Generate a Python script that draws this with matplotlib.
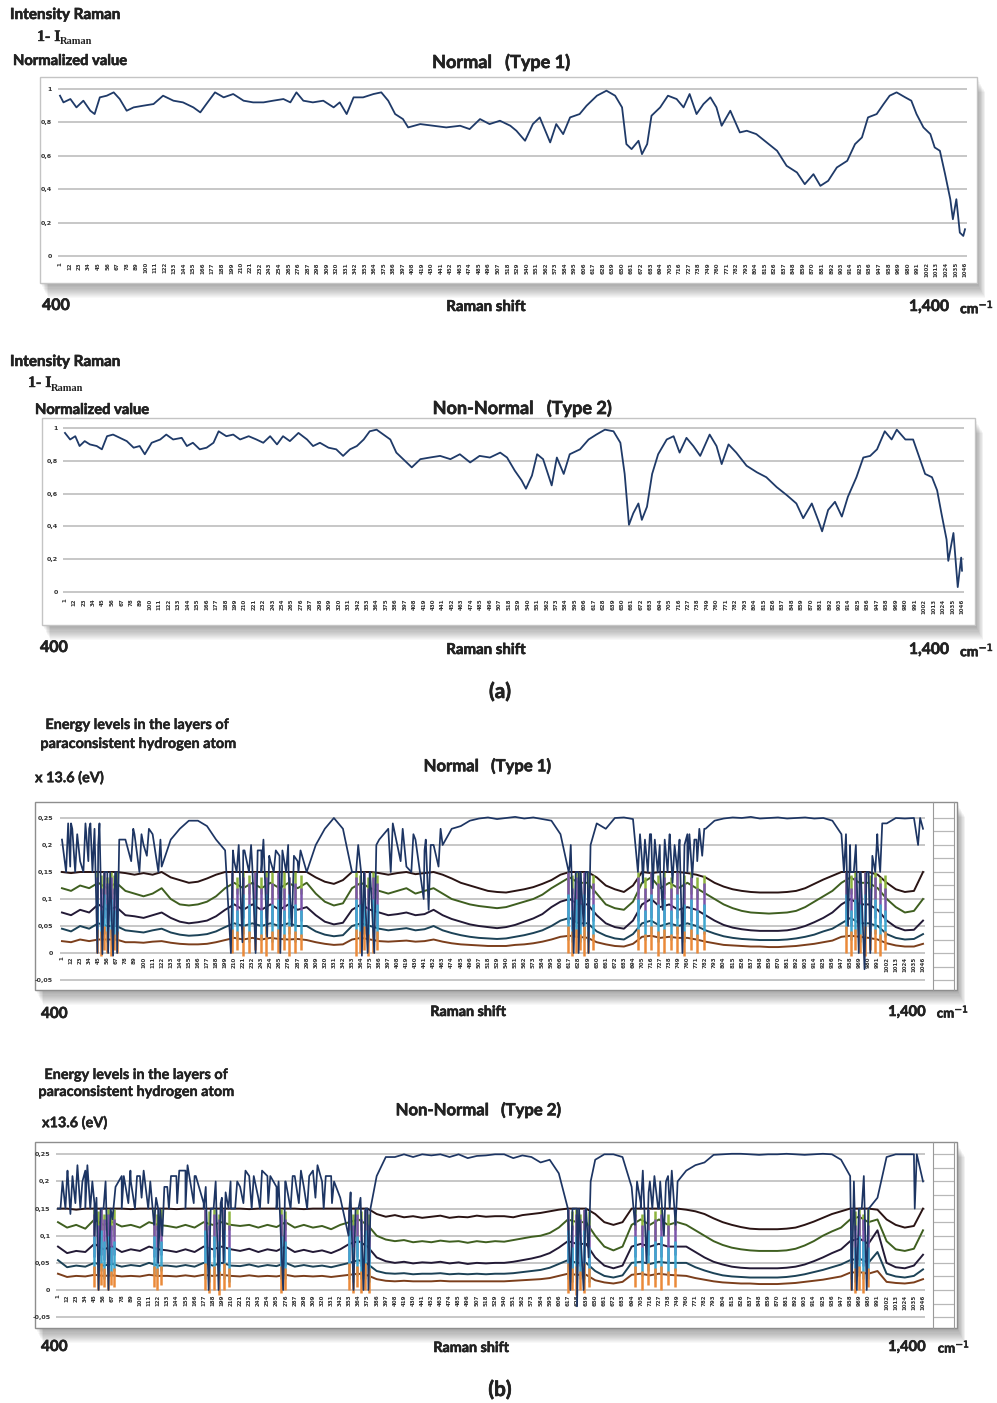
import os
import numpy as np
import matplotlib
matplotlib.use('Agg')
import matplotlib.pyplot as plt
import matplotlib.patheffects as pe
from matplotlib.patches import Rectangle
from matplotlib import font_manager
from matplotlib.font_manager import FontProperties

W, H = 997, 1403


def pick_bold(cands, default):
    # look up the actual bold font file so the weight really is bold
    for name in cands:
        for f in font_manager.fontManager.ttflist:
            b = os.path.basename(f.fname).lower()
            if f.name == name and 'bold' in b and 'italic' not in b and 'semi' not in b \
                    and 'extra' not in b and 'oblique' not in b:
                return f.fname
    return font_manager.findfont(FontProperties(family=default, weight='bold'))


SANS_FILE = pick_bold(['Lato', 'Open Sans', 'Roboto', 'Noto Sans', 'Liberation Sans'], 'DejaVu Sans')
SERIF_FILE = pick_bold(['Liberation Serif', 'DejaVu Serif'], 'DejaVu Serif')

# x tick categories (point index along the Raman shift axis)
tick_idx = list(range(1, 1047, 11))

# ---- (a) Normal (Type 1): 1 - I_Raman normalized ----
p1_x = [1, 5, 13, 20, 28, 36, 41, 47, 55, 63,
        70, 78, 86, 97, 109, 120, 132, 143, 155, 163,
        170, 180, 190, 201, 213, 224, 236, 247, 259, 267,
        274, 282, 293, 305, 317, 324, 332, 340, 351, 363,
        372, 380, 388, 397, 403, 417, 432, 447, 463, 474,
        486, 497, 509, 521, 528, 538, 547, 555, 567, 574,
        582, 590, 601, 609, 621, 632, 642, 650, 655, 661,
        669, 673, 679, 684, 694, 703, 713, 721, 728, 736,
        744, 752, 759, 765, 775, 786, 794, 805, 817, 829,
        840, 852, 861, 871, 879, 888, 898, 910, 919, 927,
        934, 944, 952, 959, 967, 977, 984, 990, 998, 1006,
        1011, 1017, 1023, 1029, 1032, 1036, 1040, 1044, 1046]
p1_y = [0.96, 0.92, 0.94, 0.89, 0.93, 0.87, 0.85, 0.95, 0.96, 0.98,
        0.94, 0.87, 0.89, 0.90, 0.91, 0.96, 0.93, 0.92, 0.89, 0.86,
        0.91, 0.98, 0.95, 0.97, 0.93, 0.92, 0.92, 0.93, 0.94, 0.92,
        0.98, 0.93, 0.92, 0.93, 0.89, 0.92, 0.85, 0.95, 0.95, 0.97,
        0.98, 0.93, 0.85, 0.82, 0.77, 0.79, 0.78, 0.77, 0.78, 0.76,
        0.82, 0.79, 0.81, 0.78, 0.75, 0.69, 0.79, 0.83, 0.68, 0.79,
        0.73, 0.83, 0.85, 0.90, 0.96, 0.99, 0.96, 0.89, 0.67, 0.64,
        0.69, 0.61, 0.67, 0.84, 0.89, 0.96, 0.94, 0.89, 0.97, 0.85,
        0.91, 0.95, 0.89, 0.78, 0.87, 0.74, 0.75, 0.73, 0.68, 0.63,
        0.54, 0.50, 0.43, 0.49, 0.42, 0.45, 0.53, 0.57, 0.67, 0.71,
        0.83, 0.85, 0.91, 0.96, 0.98, 0.95, 0.93, 0.85, 0.77, 0.73,
        0.65, 0.63, 0.49, 0.34, 0.22, 0.34, 0.14, 0.12, 0.16]

# ---- (a) Non-Normal (Type 2) ----
p2_x = [1, 7, 13, 18, 24, 30, 38, 44, 50, 57,
        65, 73, 81, 88, 94, 102, 112, 119, 127, 137,
        143, 150, 158, 166, 174, 180, 189, 197, 205, 215,
        224, 232, 240, 248, 255, 263, 273, 283, 290, 298,
        308, 317, 325, 333, 341, 349, 356, 364, 372, 380,
        387, 395, 405, 415, 426, 438, 450, 461, 473, 484,
        496, 508, 516, 525, 533, 538, 545, 551, 558, 568,
        574, 582, 589, 601, 611, 620, 630, 640, 648, 653,
        658, 663, 669, 673, 679, 685, 692, 702, 710, 717,
        725, 733, 741, 752, 760, 766, 774, 783, 795, 807,
        818, 830, 842, 853, 861, 871, 879, 883, 890, 898,
        906, 913, 923, 931, 939, 947, 956, 964, 970, 980,
        989, 995, 1003, 1011, 1017, 1022, 1028, 1030, 1036, 1041,
        1045, 1046]
p2_y = [0.97, 0.93, 0.95, 0.89, 0.92, 0.90, 0.89, 0.87, 0.95, 0.96,
        0.94, 0.92, 0.88, 0.89, 0.84, 0.91, 0.93, 0.96, 0.93, 0.94,
        0.89, 0.91, 0.87, 0.88, 0.91, 0.98, 0.95, 0.96, 0.93, 0.95,
        0.93, 0.91, 0.95, 0.90, 0.95, 0.92, 0.97, 0.93, 0.89, 0.91,
        0.88, 0.87, 0.83, 0.87, 0.89, 0.93, 0.98, 0.99, 0.96, 0.93,
        0.85, 0.81, 0.76, 0.81, 0.82, 0.83, 0.81, 0.84, 0.79, 0.83,
        0.82, 0.85, 0.82, 0.74, 0.68, 0.63, 0.71, 0.84, 0.81, 0.65,
        0.82, 0.72, 0.84, 0.87, 0.93, 0.96, 0.99, 0.98, 0.91, 0.72,
        0.41, 0.48, 0.54, 0.44, 0.52, 0.72, 0.84, 0.93, 0.95, 0.85,
        0.94, 0.89, 0.83, 0.96, 0.89, 0.78, 0.90, 0.85, 0.77, 0.73,
        0.70, 0.64, 0.59, 0.54, 0.45, 0.54, 0.43, 0.37, 0.50, 0.55,
        0.46, 0.58, 0.70, 0.82, 0.83, 0.87, 0.98, 0.93, 0.99, 0.93,
        0.93, 0.84, 0.72, 0.70, 0.62, 0.48, 0.32, 0.19, 0.36, 0.03,
        0.21, 0.13]

# ---- (b) Normal (Type 1): energy levels (x13.6 eV), one value per tick index ----
n_lvl1 = [0.21, 0.24, 0.17, 0.23, 0.20, 0.15, 0.15, 0.21, 0.22, 0.20,
          0.22, 0.16, 0.21, 0.23, 0.245, 0.245, 0.235, 0.21, 0.19, 0.17,
          0.19, 0.16, 0.19, 0.17, 0.18, 0.15, 0.17, 0.15, 0.20, 0.23,
          0.25, 0.23, 0.15, 0.15, 0.15, 0.21, 0.23, 0.20, 0.16, 0.21,
          0.19, 0.20, 0.20, 0.23, 0.235, 0.245, 0.249, 0.251, 0.248, 0.25,
          0.252, 0.249, 0.251, 0.248, 0.245, 0.22, 0.16, 0.15, 0.15, 0.24,
          0.23, 0.25, 0.251, 0.248, 0.17, 0.22, 0.15, 0.21, 0.18, 0.22,
          0.21, 0.23, 0.245, 0.249, 0.251, 0.25, 0.252, 0.249, 0.25, 0.251,
          0.249, 0.25, 0.251, 0.249, 0.25, 0.245, 0.22, 0.15, 0.15, 0.15,
          0.20, 0.24, 0.25, 0.249, 0.25, 0.23]
n_lvl2 = [0.15, 0.148, 0.15, 0.15, 0.15, 0.15, 0.15, 0.148, 0.145, 0.148,
          0.145, 0.15, 0.14, 0.135, 0.13, 0.132, 0.138, 0.145, 0.15, 0.15,
          0.15, 0.15, 0.15, 0.15, 0.15, 0.15, 0.15, 0.15, 0.14, 0.132,
          0.128, 0.135, 0.15, 0.15, 0.15, 0.148, 0.145, 0.148, 0.15, 0.146,
          0.148, 0.15, 0.145, 0.138, 0.13, 0.125, 0.12, 0.115, 0.113, 0.112,
          0.115, 0.118, 0.122, 0.128, 0.135, 0.145, 0.15, 0.15, 0.15, 0.14,
          0.125, 0.118, 0.113, 0.125, 0.15, 0.148, 0.15, 0.15, 0.15, 0.148,
          0.145, 0.14, 0.13, 0.123, 0.118, 0.115, 0.113, 0.112, 0.112, 0.112,
          0.113, 0.115, 0.12, 0.128, 0.136, 0.143, 0.15, 0.15, 0.15, 0.15,
          0.145, 0.13, 0.118, 0.113, 0.115, 0.15]
n_lvl3 = [0.12, 0.115, 0.125, 0.12, 0.13, 0.12, 0.13, 0.115, 0.11, 0.105,
          0.11, 0.12, 0.10, 0.09, 0.088, 0.09, 0.095, 0.105, 0.12, 0.13,
          0.12, 0.13, 0.12, 0.13, 0.12, 0.13, 0.12, 0.13, 0.11, 0.095,
          0.088, 0.092, 0.12, 0.13, 0.12, 0.115, 0.11, 0.115, 0.12, 0.11,
          0.115, 0.12, 0.11, 0.10, 0.095, 0.09, 0.087, 0.085, 0.083, 0.085,
          0.09, 0.095, 0.10, 0.108, 0.12, 0.13, 0.14, 0.13, 0.13, 0.11,
          0.09, 0.083, 0.08, 0.095, 0.13, 0.14, 0.12, 0.13, 0.12, 0.13,
          0.12, 0.11, 0.10, 0.09, 0.083, 0.078, 0.075, 0.074, 0.073, 0.074,
          0.075, 0.078, 0.085, 0.095, 0.105, 0.115, 0.13, 0.14, 0.13, 0.13,
          0.12, 0.10, 0.085, 0.075, 0.078, 0.10]
n_lvl4 = [0.075, 0.07, 0.08, 0.075, 0.09, 0.08, 0.085, 0.07, 0.068, 0.065,
          0.07, 0.075, 0.065, 0.058, 0.055, 0.057, 0.06, 0.068, 0.08, 0.09,
          0.08, 0.09, 0.08, 0.09, 0.08, 0.09, 0.08, 0.085, 0.07, 0.058,
          0.053, 0.056, 0.08, 0.09, 0.08, 0.075, 0.07, 0.072, 0.075, 0.07,
          0.072, 0.08, 0.07, 0.063, 0.058, 0.053, 0.05, 0.048, 0.046, 0.048,
          0.052, 0.058, 0.064, 0.072, 0.085, 0.095, 0.10, 0.09, 0.09, 0.07,
          0.055, 0.048, 0.045, 0.06, 0.09, 0.10, 0.085, 0.09, 0.08, 0.085,
          0.08, 0.07, 0.06, 0.052, 0.047, 0.044, 0.042, 0.041, 0.041, 0.041,
          0.042, 0.045, 0.05, 0.057, 0.065, 0.075, 0.09, 0.10, 0.09, 0.09,
          0.08, 0.06, 0.048, 0.042, 0.043, 0.06]
n_lvl5 = [0.045, 0.04, 0.05, 0.045, 0.055, 0.05, 0.05, 0.042, 0.04, 0.038,
          0.042, 0.045, 0.038, 0.034, 0.032, 0.033, 0.035, 0.04, 0.048, 0.055,
          0.05, 0.055, 0.05, 0.055, 0.05, 0.055, 0.05, 0.05, 0.04, 0.034,
          0.031, 0.033, 0.05, 0.055, 0.05, 0.045, 0.042, 0.044, 0.046, 0.042,
          0.044, 0.05, 0.042, 0.037, 0.033, 0.03, 0.028, 0.027, 0.026, 0.027,
          0.03, 0.033, 0.037, 0.042, 0.05, 0.06, 0.065, 0.055, 0.055, 0.04,
          0.032, 0.027, 0.025, 0.035, 0.055, 0.06, 0.05, 0.055, 0.05, 0.055,
          0.05, 0.042, 0.036, 0.031, 0.028, 0.026, 0.025, 0.024, 0.024, 0.024,
          0.025, 0.027, 0.03, 0.034, 0.04, 0.045, 0.055, 0.065, 0.055, 0.055,
          0.05, 0.035, 0.028, 0.025, 0.026, 0.035]
n_lvl6 = [0.022, 0.02, 0.025, 0.022, 0.025, 0.025, 0.025, 0.02, 0.02, 0.019,
          0.021, 0.022, 0.019, 0.017, 0.016, 0.016, 0.017, 0.02, 0.024, 0.028,
          0.025, 0.028, 0.025, 0.028, 0.026, 0.025, 0.026, 0.024, 0.02, 0.017,
          0.015, 0.016, 0.025, 0.028, 0.025, 0.022, 0.021, 0.022, 0.023, 0.021,
          0.022, 0.025, 0.021, 0.018, 0.016, 0.015, 0.014, 0.013, 0.013, 0.013,
          0.015, 0.016, 0.018, 0.021, 0.025, 0.03, 0.032, 0.03, 0.028, 0.02,
          0.016, 0.013, 0.012, 0.017, 0.03, 0.032, 0.028, 0.03, 0.028, 0.028,
          0.025, 0.021, 0.018, 0.015, 0.014, 0.013, 0.012, 0.012, 0.011, 0.011,
          0.012, 0.013, 0.015, 0.017, 0.02, 0.023, 0.03, 0.032, 0.03, 0.028,
          0.025, 0.018, 0.014, 0.012, 0.012, 0.017]
# fast up/down flips of the top level (index, low end, high end)
n_top_spk_x = [6, 11, 17, 27, 33, 38,
               44, 50, 57, 63, 68,
               85, 95, 104, 118,
               206, 213, 220, 228, 236, 243, 250, 258, 266, 273, 280, 288,
               358, 365, 372, 380,
               400, 412, 425, 440, 446, 458,
               616, 622, 628, 634, 640,
               700, 706, 712, 718, 724, 730, 736, 742, 748, 754, 760, 766, 772, 778,
               950, 955, 962, 968, 975, 982, 988, 994,
               1040]
n_top_spk_lo = [0.15, 0.16, 0.15, 0.15, 0.17, 0.15,
                0.0, -0.002, 0.0, -0.005, 0.0,
                0.17, 0.15, 0.18, 0.15,
                0.0, 0.15, 0.02, 0.15, 0.0, 0.15, 0.03, 0.15, 0.0, 0.15, 0.05, 0.15,
                0.15, -0.005, 0.0, 0.0,
                0.15, 0.17, 0.15, 0.10, 0.08, 0.16,
                0.15, 0.0, 0.0, 0.05, 0.0,
                0.15, 0.13, 0.15, 0.12, 0.15, 0.08, 0.15, 0.13, 0.15, 0.0, 0.15, 0.14, 0.17, 0.18,
                0.15, 0.05, 0.15, 0.0, -0.03, 0.0, 0.15, 0.15,
                0.20]
n_top_spk_hi = [0.24, 0.23, 0.22, 0.24, 0.24, 0.23,
                0.24, 0.15, 0.15, 0.15, 0.21,
                0.23, 0.22, 0.23, 0.21,
                0.19, 0.20, 0.19, 0.20, 0.19, 0.21, 0.18, 0.19, 0.19, 0.20, 0.18, 0.19,
                0.20, 0.15, 0.15, 0.20,
                0.24, 0.23, 0.22, 0.21, 0.20, 0.23,
                0.20, 0.15, 0.15, 0.15, 0.20,
                0.22, 0.21, 0.22, 0.21, 0.20, 0.21, 0.22, 0.20, 0.21, 0.20, 0.22, 0.21, 0.23, 0.23,
                0.22, 0.20, 0.20, 0.15, 0.15, 0.18, 0.22, 0.24,
                0.25]
# crossing zones of the lower levels
n_chaos_x = [44, 48, 52, 56, 60, 64, 68,
             207, 214, 221, 228, 235, 242, 249, 256, 263, 270, 277, 284, 291,
             358, 363, 368, 373, 378, 383,
             615, 620, 625, 630, 635, 640, 645,
             700, 708, 716, 724, 732, 740, 748, 756, 764, 772, 780,
             952, 958, 964, 970, 976, 982, 988, 994, 1000]
n_c3_lo = [0.10, 0.11, 0.09, 0.11, 0.10, 0.11, 0.10,
           0.10, 0.11, 0.09, 0.11, 0.10, 0.11, 0.09, 0.10, 0.11, 0.10, 0.11, 0.10, 0.11,
           0.10, 0.11, 0.10, 0.09, 0.11, 0.10,
           0.10, 0.11, 0.09, 0.10, 0.11, 0.10, 0.11,
           0.11, 0.10, 0.11, 0.09, 0.11, 0.10, 0.11, 0.10, 0.11, 0.10, 0.11,
           0.10, 0.11, 0.09, 0.11, 0.10, 0.11, 0.10, 0.11, 0.10]
n_c3_hi = [0.15, 0.145, 0.15, 0.14, 0.15, 0.145, 0.15,
           0.15, 0.14, 0.15, 0.145, 0.15, 0.14, 0.15, 0.15, 0.145, 0.15, 0.14, 0.15, 0.145,
           0.15, 0.145, 0.15, 0.14, 0.15, 0.145,
           0.15, 0.145, 0.15, 0.15, 0.14, 0.15, 0.145,
           0.15, 0.14, 0.15, 0.145, 0.15, 0.14, 0.15, 0.145, 0.15, 0.14, 0.145,
           0.15, 0.145, 0.15, 0.14, 0.15, 0.145, 0.15, 0.14, 0.145]
n_c4_lo = [0.06, 0.05, 0.065, 0.055, 0.06, 0.05, 0.065,
           0.06, 0.05, 0.065, 0.055, 0.06, 0.05, 0.065, 0.055, 0.06, 0.05, 0.065, 0.055, 0.06,
           0.06, 0.05, 0.065, 0.055, 0.06, 0.05,
           0.055, 0.045, 0.06, 0.05, 0.055, 0.045, 0.06,
           0.06, 0.05, 0.065, 0.055, 0.06, 0.05, 0.065, 0.055, 0.06, 0.05, 0.065,
           0.06, 0.05, 0.065, 0.055, 0.06, 0.05, 0.065, 0.055, 0.06]
n_c4_hi = [0.14, 0.12, 0.15, 0.13, 0.14, 0.12, 0.13,
           0.15, 0.12, 0.14, 0.13, 0.15, 0.12, 0.14, 0.13, 0.15, 0.12, 0.14, 0.13, 0.12,
           0.14, 0.13, 0.15, 0.12, 0.14, 0.13,
           0.15, 0.12, 0.14, 0.13, 0.15, 0.12, 0.13,
           0.14, 0.12, 0.15, 0.13, 0.14, 0.12, 0.15, 0.13, 0.14, 0.12, 0.13,
           0.15, 0.12, 0.14, 0.13, 0.15, 0.12, 0.14, 0.13, 0.12]
n_c5_lo = [0.03, 0.025, 0.035, 0.02, 0.03, 0.025, 0.035,
           0.03, 0.025, 0.035, 0.02, 0.03, 0.025, 0.035, 0.02, 0.03, 0.025, 0.035, 0.02, 0.03,
           0.03, 0.025, 0.035, 0.02, 0.03, 0.025,
           0.025, 0.02, 0.03, 0.02, 0.025, 0.02, 0.03,
           0.03, 0.025, 0.035, 0.02, 0.03, 0.025, 0.035, 0.02, 0.03, 0.025, 0.035,
           0.03, 0.025, 0.035, 0.02, 0.03, 0.025, 0.035, 0.02, 0.03]
n_c5_hi = [0.10, 0.08, 0.11, 0.09, 0.10, 0.08, 0.09,
           0.10, 0.08, 0.11, 0.09, 0.10, 0.08, 0.11, 0.09, 0.10, 0.08, 0.11, 0.09, 0.08,
           0.10, 0.09, 0.11, 0.08, 0.10, 0.09,
           0.11, 0.08, 0.10, 0.09, 0.11, 0.08, 0.09,
           0.10, 0.08, 0.11, 0.09, 0.10, 0.08, 0.11, 0.09, 0.10, 0.08, 0.09,
           0.11, 0.08, 0.10, 0.09, 0.11, 0.08, 0.10, 0.09, 0.08]
n_c6_lo = [0.0, -0.005, 0.005, 0.0, -0.005, 0.005, 0.0,
           0.0, 0.005, -0.005, 0.0, 0.005, 0.0, -0.005, 0.005, 0.0, 0.005, -0.005, 0.0, 0.005,
           -0.005, 0.0, 0.005, -0.005, 0.0, 0.005,
           0.0, -0.005, 0.0, 0.005, -0.005, 0.0, 0.005,
           0.005, 0.0, 0.005, -0.005, 0.0, 0.005, 0.0, -0.005, 0.005, 0.0, 0.005,
           0.0, -0.005, 0.005, 0.0, -0.005, 0.005, 0.0, -0.005, 0.005]
n_c6_hi = [0.045, 0.04, 0.05, 0.04, 0.045, 0.035, 0.04,
           0.045, 0.04, 0.05, 0.04, 0.045, 0.035, 0.05, 0.04, 0.045, 0.035, 0.05, 0.04, 0.035,
           0.045, 0.04, 0.05, 0.035, 0.045, 0.04,
           0.05, 0.04, 0.045, 0.035, 0.05, 0.04, 0.035,
           0.045, 0.035, 0.05, 0.04, 0.045, 0.035, 0.05, 0.04, 0.045, 0.035, 0.04,
           0.05, 0.04, 0.045, 0.035, 0.05, 0.04, 0.045, 0.035, 0.04]

# ---- (b) Non-Normal (Type 2) ----
nn_lvl1 = [0.15, 0.21, 0.19, 0.22, 0.16, 0.15, 0.13, 0.21, 0.20, 0.21,
           0.17, 0.15, 0.19, 0.21, 0.22, 0.21, 0.16, 0.15, 0.17, 0.15,
           0.19, 0.21, 0.17, 0.21, 0.19, 0.20, 0.21, 0.19, 0.22, 0.20,
           0.21, 0.17, 0.15, 0.15, 0.15, 0.21, 0.245, 0.245, 0.25, 0.245,
           0.25, 0.248, 0.25, 0.245, 0.25, 0.243, 0.247, 0.248, 0.25, 0.25,
           0.243, 0.248, 0.245, 0.235, 0.24, 0.215, 0.15, 0.15, 0.15, 0.24,
           0.25, 0.25, 0.245, 0.19, 0.16, 0.20, 0.15, 0.21, 0.18, 0.22,
           0.23, 0.235, 0.249, 0.25, 0.251, 0.251, 0.25, 0.249, 0.25, 0.25,
           0.251, 0.25, 0.249, 0.25, 0.251, 0.25, 0.24, 0.21, 0.15, 0.15,
           0.17, 0.245, 0.25, 0.25, 0.25, 0.20]
nn_lvl2 = [0.15, 0.15, 0.148, 0.15, 0.15, 0.15, 0.15, 0.15, 0.149, 0.15,
           0.15, 0.15, 0.15, 0.149, 0.15, 0.15, 0.15, 0.15, 0.15, 0.15,
           0.15, 0.149, 0.15, 0.15, 0.15, 0.15, 0.15, 0.149, 0.15, 0.15,
           0.15, 0.15, 0.15, 0.15, 0.15, 0.14, 0.135, 0.138, 0.134, 0.136,
           0.133, 0.135, 0.137, 0.133, 0.135, 0.134, 0.137, 0.135, 0.136, 0.136,
           0.134, 0.138, 0.14, 0.142, 0.145, 0.148, 0.15, 0.15, 0.15, 0.14,
           0.125, 0.12, 0.125, 0.15, 0.15, 0.15, 0.15, 0.15, 0.15, 0.148,
           0.145, 0.14, 0.132, 0.125, 0.12, 0.116, 0.113, 0.112, 0.112, 0.112,
           0.113, 0.115, 0.12, 0.126, 0.133, 0.14, 0.145, 0.15, 0.15, 0.15,
           0.148, 0.13, 0.12, 0.115, 0.118, 0.15]
nn_lvl3 = [0.125, 0.115, 0.12, 0.113, 0.13, 0.12, 0.125, 0.117, 0.12, 0.115,
           0.125, 0.12, 0.118, 0.115, 0.12, 0.115, 0.125, 0.12, 0.125, 0.12,
           0.118, 0.12, 0.115, 0.12, 0.116, 0.125, 0.115, 0.12, 0.115, 0.118,
           0.112, 0.12, 0.125, 0.13, 0.12, 0.10, 0.093, 0.09, 0.092, 0.088,
           0.09, 0.088, 0.091, 0.089, 0.09, 0.087, 0.09, 0.088, 0.09, 0.089,
           0.092, 0.095, 0.098, 0.10, 0.105, 0.115, 0.13, 0.125, 0.125, 0.10,
           0.08, 0.073, 0.08, 0.12, 0.13, 0.12, 0.13, 0.12, 0.125, 0.12,
           0.11, 0.10, 0.09, 0.083, 0.078, 0.075, 0.073, 0.072, 0.072, 0.072,
           0.073, 0.076, 0.082, 0.09, 0.10, 0.108, 0.115, 0.13, 0.135, 0.125,
           0.13, 0.09, 0.075, 0.072, 0.076, 0.11]
nn_lvl4 = [0.08, 0.068, 0.072, 0.07, 0.085, 0.075, 0.08, 0.07, 0.075, 0.072,
           0.08, 0.075, 0.073, 0.07, 0.075, 0.07, 0.08, 0.075, 0.08, 0.075,
           0.072, 0.076, 0.07, 0.075, 0.072, 0.08, 0.07, 0.074, 0.07, 0.073,
           0.068, 0.075, 0.085, 0.09, 0.08, 0.06, 0.053, 0.05, 0.052, 0.049,
           0.051, 0.05, 0.052, 0.049, 0.051, 0.048, 0.05, 0.049, 0.05, 0.05,
           0.052, 0.055, 0.058, 0.062, 0.068, 0.078, 0.09, 0.085, 0.085, 0.06,
           0.045, 0.04, 0.045, 0.08, 0.085, 0.08, 0.085, 0.08, 0.08, 0.08,
           0.07, 0.06, 0.052, 0.047, 0.043, 0.041, 0.04, 0.04, 0.04, 0.04,
           0.041, 0.043, 0.047, 0.053, 0.06, 0.068, 0.075, 0.09, 0.095, 0.085,
           0.11, 0.05, 0.042, 0.04, 0.045, 0.065]
nn_lvl5 = [0.055, 0.042, 0.045, 0.043, 0.05, 0.045, 0.048, 0.043, 0.046, 0.044,
           0.05, 0.045, 0.045, 0.043, 0.046, 0.043, 0.05, 0.045, 0.05, 0.045,
           0.044, 0.047, 0.043, 0.046, 0.044, 0.05, 0.043, 0.046, 0.043, 0.045,
           0.042, 0.046, 0.05, 0.055, 0.048, 0.035, 0.031, 0.03, 0.031, 0.029,
           0.03, 0.03, 0.031, 0.029, 0.03, 0.029, 0.03, 0.029, 0.03, 0.03,
           0.031, 0.033, 0.035, 0.037, 0.041, 0.048, 0.055, 0.05, 0.05, 0.035,
           0.026, 0.023, 0.027, 0.05, 0.052, 0.048, 0.052, 0.05, 0.05, 0.05,
           0.042, 0.036, 0.031, 0.027, 0.025, 0.024, 0.023, 0.023, 0.023, 0.023,
           0.024, 0.026, 0.029, 0.033, 0.037, 0.042, 0.047, 0.055, 0.058, 0.05,
           0.07, 0.03, 0.025, 0.023, 0.026, 0.038]
nn_lvl6 = [0.03, 0.024, 0.026, 0.025, 0.028, 0.026, 0.027, 0.025, 0.026, 0.025,
           0.028, 0.026, 0.026, 0.025, 0.027, 0.025, 0.028, 0.026, 0.028, 0.026,
           0.025, 0.027, 0.025, 0.026, 0.025, 0.028, 0.025, 0.026, 0.025, 0.026,
           0.024, 0.026, 0.028, 0.03, 0.027, 0.02, 0.017, 0.016, 0.017, 0.016,
           0.016, 0.016, 0.017, 0.016, 0.016, 0.016, 0.016, 0.016, 0.016, 0.016,
           0.017, 0.018, 0.019, 0.02, 0.022, 0.026, 0.03, 0.028, 0.028, 0.018,
           0.014, 0.012, 0.015, 0.028, 0.03, 0.027, 0.03, 0.028, 0.027, 0.026,
           0.022, 0.019, 0.016, 0.014, 0.013, 0.012, 0.012, 0.011, 0.011, 0.011,
           0.012, 0.013, 0.015, 0.017, 0.019, 0.022, 0.025, 0.032, 0.033, 0.03,
           0.035, 0.015, 0.013, 0.012, 0.014, 0.02]
nn_top_spk_x = [4, 10, 16, 22, 28, 34, 40,
                45, 50, 56, 62, 68,
                78, 86, 94, 102, 110,
                117, 122, 127,
                135, 145, 155, 165,
                177, 183, 189, 195, 201, 207,
                215, 225, 235, 245, 255, 265, 273, 282, 292, 302, 312, 322, 332,
                352, 358, 364, 370, 376,
                620, 628, 636, 642,
                698, 705, 712, 719, 726, 733, 740, 747,
                960, 966, 972, 978,
                1036]
nn_top_spk_lo = [0.15, 0.15, 0.14, 0.16, 0.15, 0.15, 0.15,
                 0.10, 0.0, 0.15, 0.0, 0.15,
                 0.15, 0.16, 0.15, 0.17, 0.15,
                 0.12, 0.05, 0.10,
                 0.15, 0.16, 0.15, 0.16,
                 0.15, 0.0, 0.15, 0.0, 0.05, 0.15,
                 0.15, 0.16, 0.15, 0.15, 0.16, 0.15, 0.0, 0.15, 0.16, 0.15, 0.17, 0.15, 0.16,
                 0.10, 0.0, 0.15, 0.0, 0.0,
                 0.0, -0.03, 0.0, 0.06,
                 0.12, 0.15, 0.05, 0.15, 0.15, 0.10, 0.15, 0.12,
                 0.0, 0.0, 0.15, 0.0,
                 0.15]
nn_top_spk_hi = [0.20, 0.22, 0.21, 0.23, 0.20, 0.23, 0.20,
                 0.17, 0.15, 0.20, 0.15, 0.19,
                 0.21, 0.22, 0.21, 0.22, 0.20,
                 0.17, 0.15, 0.19,
                 0.21, 0.22, 0.23, 0.21,
                 0.19, 0.15, 0.20, 0.16, 0.18, 0.20,
                 0.20, 0.22, 0.21, 0.22, 0.21, 0.20, 0.20, 0.21, 0.22, 0.21, 0.23, 0.21, 0.20,
                 0.18, 0.15, 0.17, 0.15, 0.15,
                 0.15, 0.15, 0.15, 0.20,
                 0.20, 0.22, 0.18, 0.21, 0.20, 0.20, 0.22, 0.20,
                 0.20, 0.15, 0.21, 0.15,
                 0.25]
nn_chaos_x = [45, 49, 53, 57, 61, 65, 69,
              117, 121, 125,
              178, 184, 190, 196, 202, 208,
              270, 275,
              352, 357, 362, 367, 372, 377,
              617, 622, 627, 632, 637, 642,
              698, 706, 714, 722, 730, 738, 746,
              959, 964, 969, 974, 979]
nn_c3_lo = [0.10, 0.11, 0.09, 0.11, 0.10, 0.11, 0.10,
            0.10, 0.11, 0.10,
            0.10, 0.11, 0.09, 0.11, 0.10, 0.11,
            0.10, 0.11,
            0.10, 0.11, 0.09, 0.11, 0.10, 0.11,
            0.10, 0.11, 0.09, 0.11, 0.10, 0.11,
            0.11, 0.10, 0.11, 0.09, 0.11, 0.10, 0.11,
            0.10, 0.11, 0.09, 0.11, 0.10]
nn_c3_hi = [0.15, 0.145, 0.15, 0.14, 0.15, 0.145, 0.15,
            0.15, 0.14, 0.15,
            0.15, 0.145, 0.15, 0.14, 0.15, 0.145,
            0.15, 0.145,
            0.15, 0.14, 0.15, 0.145, 0.15, 0.14,
            0.15, 0.145, 0.15, 0.14, 0.15, 0.145,
            0.15, 0.14, 0.15, 0.145, 0.15, 0.14, 0.145,
            0.15, 0.145, 0.15, 0.14, 0.15]
nn_c4_lo = [0.06, 0.05, 0.065, 0.055, 0.06, 0.05, 0.065,
            0.06, 0.05, 0.065,
            0.05, 0.04, 0.06, 0.045, 0.055, 0.05,
            0.05, 0.045,
            0.05, 0.04, 0.06, 0.045, 0.055, 0.05,
            0.05, 0.04, 0.055, 0.045, 0.05, 0.04,
            0.06, 0.05, 0.065, 0.055, 0.06, 0.05, 0.065,
            0.05, 0.04, 0.055, 0.045, 0.05]
nn_c4_hi = [0.14, 0.12, 0.15, 0.13, 0.14, 0.12, 0.13,
            0.14, 0.12, 0.13,
            0.15, 0.12, 0.14, 0.13, 0.15, 0.12,
            0.14, 0.13,
            0.15, 0.12, 0.14, 0.13, 0.15, 0.12,
            0.15, 0.12, 0.14, 0.13, 0.15, 0.12,
            0.14, 0.12, 0.15, 0.13, 0.14, 0.12, 0.13,
            0.15, 0.12, 0.14, 0.13, 0.12]
nn_c5_lo = [0.03, 0.025, 0.035, 0.02, 0.03, 0.025, 0.035,
            0.03, 0.025, 0.035,
            0.02, 0.015, 0.025, 0.02, 0.02, 0.015,
            0.02, 0.02,
            0.02, 0.015, 0.025, 0.02, 0.02, 0.015,
            0.02, 0.015, 0.025, 0.02, 0.02, 0.015,
            0.03, 0.025, 0.035, 0.02, 0.03, 0.025, 0.035,
            0.02, 0.015, 0.025, 0.02, 0.02]
nn_c5_hi = [0.10, 0.08, 0.11, 0.09, 0.10, 0.08, 0.09,
            0.10, 0.08, 0.09,
            0.11, 0.08, 0.10, 0.09, 0.11, 0.08,
            0.10, 0.09,
            0.11, 0.08, 0.10, 0.09, 0.11, 0.08,
            0.11, 0.08, 0.10, 0.09, 0.11, 0.08,
            0.10, 0.08, 0.11, 0.09, 0.10, 0.08, 0.09,
            0.11, 0.08, 0.10, 0.09, 0.08]
nn_c6_lo = [0.005, 0.0, 0.01, 0.005, 0.0, 0.01, 0.005,
            0.005, 0.0, 0.01,
            0.0, -0.005, 0.0, -0.01, 0.0, 0.005,
            -0.005, 0.0,
            0.0, -0.005, 0.005, -0.005, 0.0, -0.005,
            -0.005, 0.0, -0.01, 0.0, -0.005, 0.005,
            0.005, 0.0, 0.01, 0.005, 0.0, 0.01, 0.005,
            0.0, -0.005, 0.0, -0.005, 0.005]
nn_c6_hi = [0.045, 0.04, 0.05, 0.04, 0.045, 0.035, 0.04,
            0.045, 0.04, 0.045,
            0.05, 0.04, 0.045, 0.035, 0.05, 0.04,
            0.045, 0.04,
            0.05, 0.04, 0.045, 0.035, 0.05, 0.04,
            0.05, 0.04, 0.045, 0.035, 0.05, 0.04,
            0.045, 0.035, 0.05, 0.04, 0.045, 0.035, 0.04,
            0.05, 0.04, 0.045, 0.035, 0.04]

raman_ticks = [0, 0.2, 0.4, 0.6, 0.8, 1]
raman_labels = ['0', '0,2', '0,4', '0,6', '0,8', '1']
energy_ticks = [-0.05, 0, 0.05, 0.1, 0.15, 0.2, 0.25]
energy_labels = ['-0,05', '0', '0,05', '0,1', '0,15', '0,2', '0,25']
# line colours for levels 1..6 and the brighter colours seen in crossing zones
level_colors = ['#1d3563', '#2a1414', '#3f5f20', '#231a36', '#1c4257', '#7c3f1c']
spike_colors = ['#2c4f92', '#2e1616', '#8db43e', '#7b55ab', '#3fa7cf', '#ea8a3a']
TEXT_COLOR = '#222222'

fig = plt.figure(figsize=(W / 100, H / 100), dpi=100)


def fx(px):
    return px / W


def fy(py):
    return 1 - py / H


def box(x0, y0, x1, y1, edge='#c4c4c4'):
    # soft drop shadow to the lower right, then the white chart frame
    for i in range(1, 15):
        fig.add_artist(Rectangle((fx(x0 + i * 0.6), fy(y1 + i * 1.1)), (x1 - x0) / W, (y1 - y0) / H,
                                 transform=fig.transFigure, facecolor='black', edgecolor='none',
                                 alpha=0.028, zorder=0.5))
    fig.add_artist(Rectangle((fx(x0), fy(y1)), (x1 - x0) / W, (y1 - y0) / H,
                             transform=fig.transFigure, facecolor='white', edgecolor=edge,
                             lw=1.0, zorder=1))


def make_ax(x0, y0, x1, y1, xlim, ylim, yticks, ylabels, ypad, xpad):
    ax = fig.add_axes([fx(x0), fy(y1), (x1 - x0) / W, (y1 - y0) / H])
    ax.set_zorder(3)
    ax.patch.set_alpha(0)
    for s in ax.spines.values():
        s.set_visible(False)
    ax.set_xlim(*xlim)
    ax.set_ylim(*ylim)
    ax.set_yticks(yticks)
    ax.set_yticklabels(ylabels, fontsize=4.6, fontweight='bold', color='#333333', family='DejaVu Sans')
    ax.set_xticks(tick_idx)
    ax.set_xticklabels([str(t) for t in tick_idx], rotation=90, fontsize=4.0,
                       fontweight='bold', color='#333333', family='DejaVu Sans')
    ax.tick_params(axis='y', length=0, pad=ypad)
    ax.tick_params(axis='x', length=0, pad=xpad)
    ax.grid(axis='y', color='#b8b8b8', lw=1.1)
    ax.set_axisbelow(True)
    return ax


def txt(px, py, s, size, ha='left', serif=False, stroke=0.45):
    fp = FontProperties(fname=SERIF_FILE if serif else SANS_FILE, size=size)
    effects = [pe.withStroke(linewidth=stroke, foreground=TEXT_COLOR)] if stroke else None
    fig.text(fx(px), fy(py), s, fontproperties=fp, ha=ha, va='center', color=TEXT_COLOR,
             path_effects=effects)


def side_grid(x0, y0, x1, y1, ylim):
    ax2 = fig.add_axes([fx(x0), fy(y1), (x1 - x0) / W, (y1 - y0) / H])
    ax2.set_zorder(3)
    ax2.patch.set_alpha(0)
    ax2.set_ylim(*ylim)
    ax2.set_yticks(np.arange(-0.05, 0.26, 0.025))
    ax2.set_xticks([])
    ax2.tick_params(axis='y', length=0, labelleft=False)
    ax2.grid(axis='y', color='#b8b8b8', lw=0.9)
    for k in ['top', 'bottom']:
        ax2.spines[k].set_visible(False)
    for k in ['left', 'right']:
        ax2.spines[k].set_color('#9a9a9a')


def energy_plot(ax, levels, chaos_x, chaos, top_x, top_lo, top_hi):
    # levels 2..6 as lines, then the crossing bursts, then level 1 on top
    for i in [1, 2, 3, 4, 5]:
        ax.plot(tick_idx, levels[i], color=level_colors[i], lw=1.4)
    for i, (lo, hi) in zip([2, 3, 4, 5], chaos):
        ax.vlines(chaos_x, lo, hi, colors=spike_colors[i], lw=1.8)
    # level 1 with its fast flips merged in as a zigzag
    xs = np.concatenate([tick_idx, top_x, np.asarray(top_x) + 2.5])
    ys = np.concatenate([levels[0], top_lo, top_hi])
    order = np.argsort(xs, kind='stable')
    ax.plot(xs[order], ys[order], color=level_colors[0], lw=1.25)


# ---------------- panel 1 ----------------
box(40, 77, 977, 283)
ax = make_ax(58, 77, 967, 283, (-1.3, 1048.3), (-0.162, 1.072), raman_ticks, raman_labels, 4.3, -15)
ax.plot(p1_x, p1_y, color='#1f3a68', lw=1.3)
txt(10, 15, 'Intensity Raman', 11)
txt(37, 37, '1- I', 11.5, serif=True, stroke=0.3)
txt(60, 42, 'Raman', 7.5, serif=True, stroke=0)
txt(13, 61, 'Normalized value', 10.6)
txt(501, 62, 'Normal   (Type 1)', 13, ha='center')
txt(42, 306, '400', 11.5)
txt(486, 307, 'Raman shift', 10.8, ha='center')
txt(929, 307, '1,400', 11.3, ha='center')
txt(977, 307, 'cm$^{-1}$', 10, ha='center')

# ---------------- panel 2 ----------------
box(42, 418, 975, 625)
ax = make_ax(63, 418, 964, 625, (-1.3, 1048.3), (-0.201, 1.061), raman_ticks, raman_labels, 3.6, -19)
ax.plot(p2_x, p2_y, color='#1f3a68', lw=1.3)
txt(10, 362, 'Intensity Raman', 11)
txt(28, 383, '1- I', 11.5, serif=True, stroke=0.3)
txt(51, 388, 'Raman', 7.5, serif=True, stroke=0)
txt(35, 410, 'Normalized value', 10.6)
txt(522, 408, 'Non-Normal   (Type 2)', 13, ha='center')
txt(40, 648, '400', 11.5)
txt(486, 650, 'Raman shift', 10.8, ha='center')
txt(929, 650, '1,400', 11.3, ha='center')
txt(977, 650, 'cm$^{-1}$', 10, ha='center')
txt(500, 692, '(a)', 15, ha='center')

# ---------------- panel 3 ----------------
box(35, 802, 957, 990, edge='#8e8e8e')
ax = make_ax(60, 802, 925, 990, (-1.4, 1048.4), (-0.0685, 0.2796), energy_ticks, energy_labels, 5, -24)
energy_plot(ax, [n_lvl1, n_lvl2, n_lvl3, n_lvl4, n_lvl5, n_lvl6], n_chaos_x,
            [(n_c3_lo, n_c3_hi), (n_c4_lo, n_c4_hi), (n_c5_lo, n_c5_hi), (n_c6_lo, n_c6_hi)],
            n_top_spk_x, n_top_spk_lo, n_top_spk_hi)
side_grid(933, 802, 954, 990, (-0.0685, 0.2796))
txt(137, 725, 'Energy levels in the layers of', 10.4, ha='center', stroke=0.3)
txt(138, 744, 'paraconsistent hydrogen atom', 10.4, ha='center', stroke=0.3)
txt(35, 778, 'x 13.6 (eV)', 10.4, stroke=0.3)
txt(487, 766, 'Normal   (Type 1)', 12, ha='center')
txt(41, 1014, '400', 11)
txt(468, 1012, 'Raman shift', 10.3, ha='center')
txt(907, 1012, '1,400', 10.6, ha='center')
txt(953, 1012, 'cm$^{-1}$', 9.5, ha='center')

# ---------------- panel 4 ----------------
box(35, 1142, 957, 1328, edge='#8e8e8e')
ax = make_ax(56, 1142, 925, 1328, (-1.4, 1048.4), (-0.070, 0.2727), energy_ticks, energy_labels, 4, -24)
energy_plot(ax, [nn_lvl1, nn_lvl2, nn_lvl3, nn_lvl4, nn_lvl5, nn_lvl6], nn_chaos_x,
            [(nn_c3_lo, nn_c3_hi), (nn_c4_lo, nn_c4_hi), (nn_c5_lo, nn_c5_hi), (nn_c6_lo, nn_c6_hi)],
            nn_top_spk_x, nn_top_spk_lo, nn_top_spk_hi)
side_grid(933, 1142, 954, 1328, (-0.070, 0.2727))
txt(136, 1075, 'Energy levels in the layers of', 10.4, ha='center', stroke=0.3)
txt(136, 1092, 'paraconsistent hydrogen atom', 10.4, ha='center', stroke=0.3)
txt(42, 1123, 'x13.6 (eV)', 10.4, stroke=0.3)
txt(478, 1110, 'Non-Normal   (Type 2)', 12, ha='center')
txt(41, 1347, '400', 11)
txt(471, 1348, 'Raman shift', 10.3, ha='center')
txt(907, 1347, '1,400', 10.6, ha='center')
txt(954, 1347, 'cm$^{-1}$', 9.5, ha='center')
txt(500, 1390, '(b)', 15, ha='center')

fig.savefig('out.png', dpi=100)
